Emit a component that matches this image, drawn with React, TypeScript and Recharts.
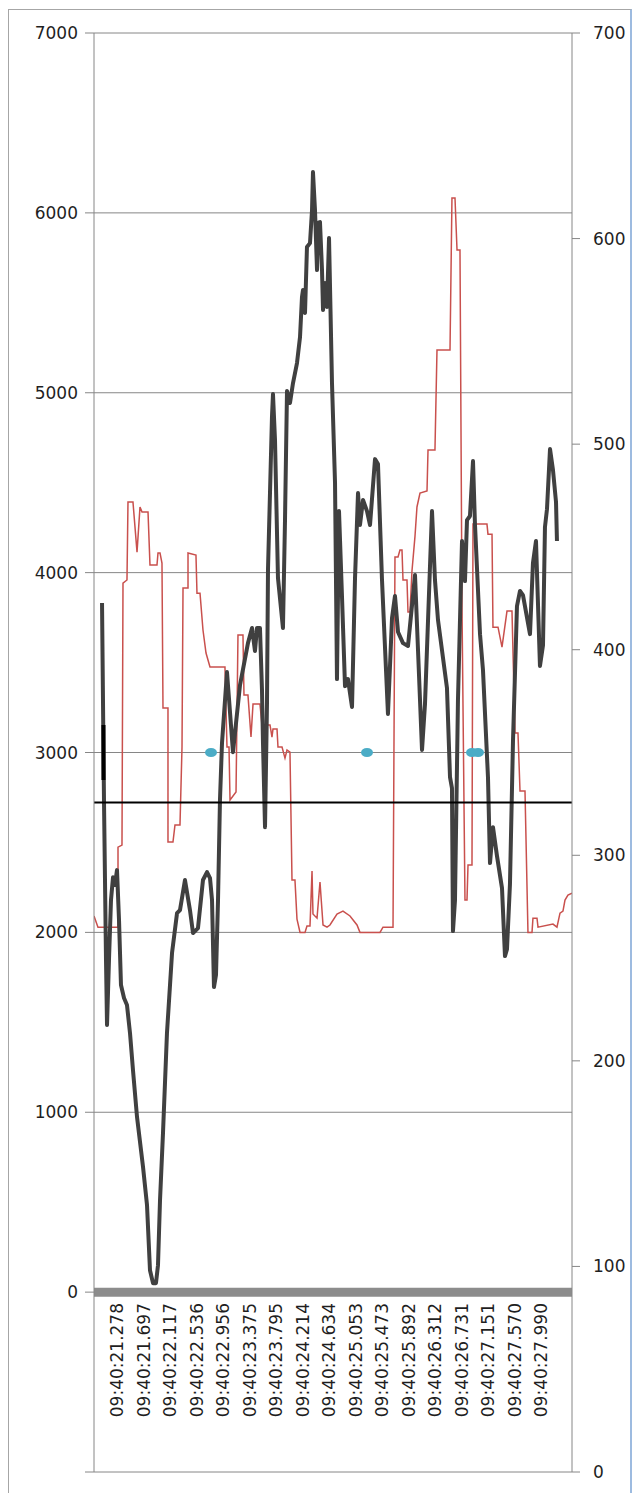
import React from 'react';
import {
  ComposedChart,
  Line,
  Scatter,
  XAxis,
  YAxis,
  CartesianGrid,
  ReferenceLine,
} from 'recharts';

// seconds after 09:40:00
const timeTicks = [
  21.278, 21.697, 22.117, 22.536, 22.956, 23.375, 23.795, 24.214, 24.634,
  25.053, 25.473, 25.892, 26.312, 26.731, 27.151, 27.57, 27.99,
];
const leftTicks = [-1000, 0, 1000, 2000, 3000, 4000, 5000, 6000, 7000];
const rightTicks = [0, 100, 200, 300, 400, 500, 600, 700];

const blackTimes = [
  21.041, 21.072, 21.104, 21.12, 21.151, 21.183, 21.215, 21.246, 21.278, 21.31,
  21.341, 21.389, 21.436, 21.484, 21.531, 21.595, 21.69, 21.753, 21.8, 21.848,
  21.895, 21.927, 21.959, 22.006, 22.069, 22.149, 22.228, 22.275, 22.354, 22.433,
  22.481, 22.56, 22.639, 22.703, 22.75, 22.782, 22.813, 22.845, 22.877, 22.908,
  22.94, 23.019, 23.114, 23.225, 23.351, 23.415, 23.462, 23.494, 23.541, 23.573,
  23.589, 23.621, 23.652, 23.668, 23.731, 23.747, 23.779, 23.826, 23.905, 23.937,
  23.969, 24.016, 24.064, 24.127, 24.175, 24.206, 24.222, 24.254, 24.285, 24.333,
  24.365, 24.38, 24.412, 24.444, 24.459, 24.491, 24.523, 24.539, 24.57, 24.602,
  24.634, 24.681, 24.729, 24.76, 24.792, 24.839, 24.887, 24.934, 24.998, 25.045,
  25.093, 25.124, 25.172, 25.235, 25.283, 25.362, 25.409, 25.472, 25.567, 25.631,
  25.678, 25.726, 25.805, 25.884, 25.995, 26.106, 26.153, 26.264, 26.311, 26.359,
  26.501, 26.549, 26.58, 26.596, 26.628, 26.675, 26.739, 26.786, 26.818, 26.865,
  26.913, 26.944, 27.024, 27.071, 27.15, 27.182, 27.229, 27.293, 27.372, 27.419,
  27.451, 27.498, 27.546, 27.609, 27.657, 27.704, 27.815, 27.862, 27.91, 27.973,
  28.021, 28.052, 28.084, 28.132, 28.179, 28.227, 28.242,
];
const blackValues = [
  3831, 2736, 1846, 1485, 1846, 2180, 2307, 2263, 2346, 2068,
  1707, 1635, 1596, 1440, 1234, 973, 695, 484, 122, 50,
  50, 150, 512, 884, 1440, 1885, 2107, 2124, 2291, 2124,
  1996, 2024, 2291, 2335, 2302, 2180, 1696, 1763, 2180, 2736,
  3052, 3447, 3002, 3375, 3608, 3692, 3564, 3692, 3692, 3347,
  3052, 2585, 3269, 4014, 4865, 4993, 4737, 3970, 3692, 4287,
  5010, 4943, 5054, 5165, 5310, 5532, 5571, 5443, 5810, 5832,
  6016, 6227, 6016, 5682, 5944, 5949, 5682, 5460, 5610, 5477,
  5860, 5054, 4498, 3408, 4342, 3870, 3369, 3408, 3253, 3964,
  4442, 4265, 4404, 4342, 4265, 4631, 4604, 3964, 3214, 3747,
  3870, 3670, 3608, 3592, 3987, 3014, 3269, 4342, 3959, 3736,
  3358, 2863, 2802, 2007, 2180, 3292, 4176, 3953, 4292, 4315,
  4620, 4270, 3658, 3458, 2863, 2385, 2585, 2424, 2246, 1868,
  1907, 2268, 3064, 3814, 3898, 3875, 3658, 4053, 4176, 3481,
  3597, 4253, 4353, 4687, 4570, 4392, 4176,
];

const redTimes = [
  20.914, 20.977, 21.294, 21.294, 21.357, 21.373, 21.436, 21.452, 21.531, 21.595,
  21.642, 21.674, 21.769, 21.8, 21.911, 21.927, 21.959, 21.99, 22.006, 22.085,
  22.085, 22.164, 22.196, 22.275, 22.307, 22.323, 22.402, 22.402, 22.528, 22.544,
  22.592, 22.639, 22.687, 22.75, 22.987, 23.019, 23.051, 23.067, 23.162, 23.193,
  23.272, 23.288, 23.351, 23.399, 23.431, 23.541, 23.573, 23.7, 23.731, 23.747,
  23.811, 23.826, 23.89, 23.937, 23.969, 24.016, 24.048, 24.095, 24.127, 24.175,
  24.254, 24.285, 24.333, 24.365, 24.38, 24.444, 24.491, 24.539, 24.602, 24.649,
  24.76, 24.855, 24.966, 25.077, 25.124, 25.441, 25.488, 25.647, 25.678, 25.726,
  25.757, 25.789, 25.805, 25.868, 25.884, 25.916, 25.947, 25.995, 26.026, 26.074,
  26.185, 26.201, 26.311, 26.343, 26.549, 26.58, 26.628, 26.66, 26.707, 26.739,
  26.786, 26.818, 26.834, 26.897, 26.913, 27.134, 27.15, 27.214, 27.229, 27.309,
  27.372, 27.451, 27.53, 27.578, 27.625, 27.657, 27.736, 27.783, 27.847, 27.862,
  27.926, 27.942, 28.179, 28.242, 28.29, 28.337, 28.369, 28.416, 28.48,
];
const redValues = [
  2091, 2029, 2029, 2474, 2485, 3942, 3959, 4392, 4392, 4114,
  4365, 4337, 4337, 4042, 4042, 4109, 4109, 4053, 3247, 3247,
  2502, 2502, 2597, 2597, 3030, 3914, 3914, 4109, 4098, 3886,
  3886, 3681, 3553, 3475, 3475, 3030, 3030, 2736, 2780, 3653,
  3653, 3319, 3319, 3086, 3269, 3269, 3153, 3153, 3086, 3130,
  3130, 3030, 3030, 2969, 3014, 3002, 2291, 2291, 2074, 2000,
  2000, 2035, 2035, 2341, 2102, 2079, 2280, 2041, 2029, 2041,
  2102, 2118, 2091, 2041, 2000, 2000, 2029, 2029, 4087, 4087,
  4126, 4126, 3959, 3959, 3781, 3781, 4009, 4203, 4365, 4442,
  4454, 4682, 4682, 5238, 5238, 6083, 6083, 5794, 5794, 3797,
  2180, 2180, 2374, 2374, 4270, 4270, 4214, 4214, 3697, 3697,
  3586, 3786, 3786, 3108, 3108, 2786, 2786, 2000, 2000, 2079,
  2079, 2029, 2046, 2029, 2107, 2118, 2180, 2207, 2218,
];

const triggerTimes = [21.064, 21.064];
const triggerValues = [3153, 2847];

// right axis
const markerTimes = [22.766, 25.235, 26.897, 26.992];
const markerValues = [350, 350, 350, 350];

const baselineValue = 2722;

const zip = (ts: number[], vs: number[]) => ts.map((t, i) => ({ t, v: vs[i] }));

const blackData = zip(blackTimes, blackValues);
const redData = zip(redTimes, redValues);
const triggerData = zip(triggerTimes, triggerValues);
const markerData = zip(markerTimes, markerValues);

const AXIS = '#868686';
const FONT = { fill: '#1f1f1f', fontSize: 17, fontFamily: 'DejaVu Sans' };
const LABEL_LIFT = 169;

const TimeTick = (props: any) => {
  const { x, y, payload } = props;
  const ly = y - LABEL_LIFT;
  return (
    <text
      x={x}
      y={ly}
      dy="0.36em"
      textAnchor="end"
      transform={`rotate(-90 ${x} ${ly})`}
      {...FONT}
    >
      {'09:40:' + Number(payload.value).toFixed(3)}
    </text>
  );
};

const Dot = (props: any) => (
  <ellipse cx={props.cx} cy={props.cy} rx={6} ry={4.5} fill="#4bacc6" />
);

export default function App() {
  return (
    <>
      <style>{'body{margin:0;overflow:hidden;background:#fff}'}</style>
      <div
        style={{
          marginLeft: 8,
          marginTop: 9,
          width: 624,
          height: 1484,
          boxSizing: 'border-box',
          borderTop: '1px solid #a6a6a6',
          borderLeft: '1px solid #a6a6a6',
          borderRight: '2px solid #9dbbe0',
        }}
      >
        <ComposedChart
          width={621}
          height={1480}
          margin={{ top: 23, right: 0, left: 0, bottom: 0 }}
        >
          <CartesianGrid yAxisId="left" vertical={false} stroke={AXIS} />
          <XAxis
            type="number"
            dataKey="t"
            domain={[20.914, 28.48]}
            allowDataOverflow
            ticks={timeTicks}
            interval={0}
            height={18}
            axisLine={false}
            tickLine={false}
            tickSize={0}
            tickMargin={0}
            tick={TimeTick}
          />
          <YAxis
            yAxisId="left"
            dataKey="v"
            domain={[-1000, 7000]}
            ticks={leftTicks}
            interval={0}
            width={85}
            axisLine={{ stroke: AXIS }}
            tickLine={{ stroke: AXIS }}
            tickSize={9}
            tickMargin={7}
            tick={FONT}
            tickFormatter={(v: number) => (v < 0 ? '' : String(v))}
          />
          <YAxis
            yAxisId="right"
            orientation="right"
            dataKey="v"
            domain={[0, 700]}
            ticks={rightTicks}
            interval={0}
            width={58}
            axisLine={{ stroke: AXIS }}
            tickLine={{ stroke: AXIS }}
            tickSize={8}
            tickMargin={13}
            tick={{ ...FONT, textAnchor: 'start' }}
          />
          <ReferenceLine yAxisId="left" y={0} stroke="#8c8c8c" strokeWidth={9} />
          <Line
            yAxisId="left"
            data={redData}
            dataKey="v"
            type="linear"
            stroke="#c9504d"
            strokeWidth={1.5}
            dot={false}
            isAnimationActive={false}
          />
          <Line
            yAxisId="left"
            data={blackData}
            dataKey="v"
            type="linear"
            stroke="#404040"
            strokeWidth={4}
            strokeLinejoin="round"
            dot={false}
            isAnimationActive={false}
          />
          <Line
            yAxisId="left"
            data={triggerData}
            dataKey="v"
            stroke="#000"
            strokeWidth={4}
            dot={false}
            isAnimationActive={false}
          />
          <ReferenceLine yAxisId="left" y={baselineValue} stroke="#000" strokeWidth={2} />
          <Scatter
            yAxisId="right"
            data={markerData}
            dataKey="v"
            shape={<Dot />}
            isAnimationActive={false}
          />
        </ComposedChart>
      </div>
    </>
  );
}
